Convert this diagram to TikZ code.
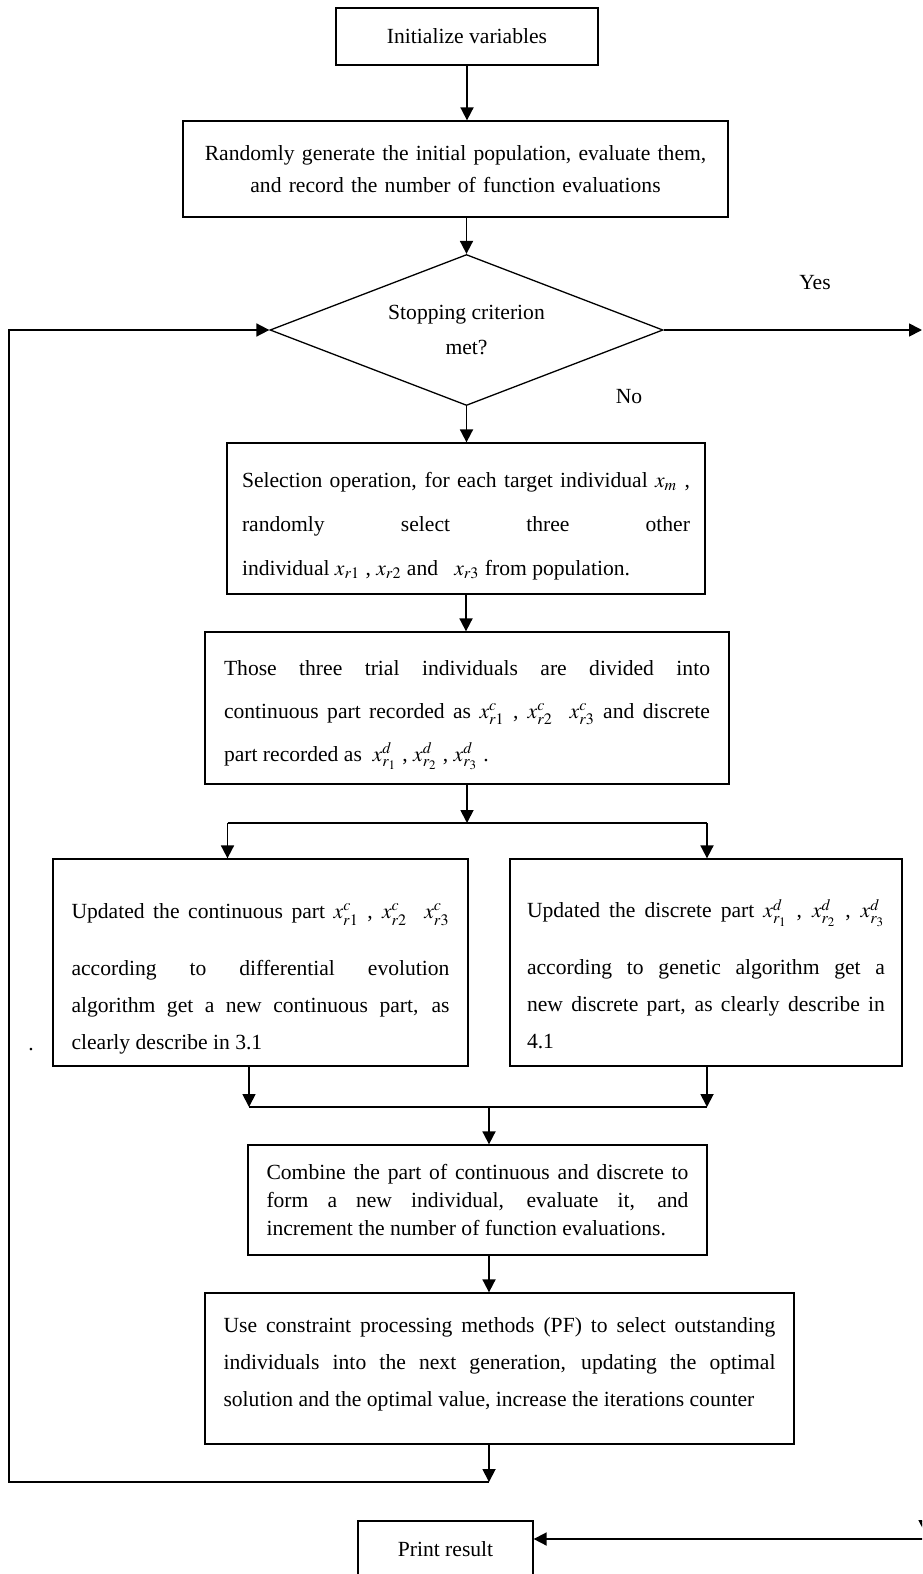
\documentclass[tikz,border=0pt]{standalone}
\usepackage{mathptmx}
\usepackage{fontspec}
\setmainfont{Liberation Serif}
\usetikzlibrary{arrows.meta,shapes.geometric}

\newcommand{\fsz}[1]{\fontsize{10.8pt}{#1}\selectfont}
\hyphenpenalty=10000

\begin{document}
\begin{tikzpicture}[
    x=0.5pt,
    y=-0.5pt,
    >={Triangle[length=6.5pt,width=6.5pt]},
    line width=0.9pt,
    font=\fsz{13pt},
    box/.style={draw, line width=0.65pt, inner sep=0pt, align=justify},
    cbox/.style={box, align=center},
    decision/.style={draw, diamond, aspect=2.6, line width=0.65pt, inner sep=0pt, align=center}
]
	\useasboundingbox (0,0) rectangle (922,1574);
	\clip (0,0) rectangle (922,1574);

	\node[cbox, minimum width=131pt, minimum height=28.5pt] (init) at (467,36.5) {Initialize variables};
	\node[cbox, text width=265pt, minimum width=272.5pt, minimum height=48pt, font=\fsz{16pt}] (rand) at (455.5,169)
		{Randomly generate the initial population, evaluate them,\\ and record the number of function evaluations};
	\node[decision, minimum width=196.5pt, minimum height=75.5pt, font=\fsz{17.5pt}] (crit) at (466.5,330)
		{Stopping criterion\\ met?};
	\node[box, text width=224pt, minimum width=239pt, minimum height=75.5pt, font=\fsz{22pt}] (sel) at (466,518.5)
		{\rule{0pt}{15.5pt}Selection operation, for each target individual $x_m$ ,\linebreak
		 randomly select three other\linebreak
		 individual $x_{r1}$ , $x_{r2}$ and\enspace\ $x_{r3}$ from population.};
	\node[box, text width=243pt, minimum width=262pt, minimum height=76pt, font=\fsz{21.5pt}] (split) at (467,708)
		{\rule{0pt}{14.4pt}Those three trial individuals are divided into\linebreak
		 continuous part recorded as $x^c_{r1}$ , $x^c_{r2}$\ \ $x^c_{r3}$ and discrete\linebreak
		 part recorded as\ \ $x^d_{r_1}$ , $x^d_{r_2}$ , $x^d_{r_3}$ .};
	\node[box, text width=189pt, minimum width=207.5pt, minimum height=103.5pt, font=\fsz{18.5pt}] (cont) at (260.5,962.5)
		{\rule{0pt}{24pt}Updated the continuous part $x^c_{r1}$ , $x^c_{r2}$\ \ $x^c_{r3}$\vspace{10pt}\linebreak
		 according to differential evolution\linebreak
		 algorithm get a new continuous part, as\linebreak
		 clearly describe in 3.1};
	\node[box, text width=179pt, minimum width=196pt, minimum height=103.5pt, font=\fsz{18.5pt}] (disc) at (706,962.5)
		{\rule{0pt}{21pt}Updated the discrete part $x^d_{r_1}$ , $x^d_{r_2}$ , $x^d_{r_3}$\vspace{10pt}\linebreak
		 according to genetic algorithm get a\linebreak
		 new discrete part, as clearly describe in\linebreak
		 4.1};
	\node[box, text width=211pt, minimum width=229.5pt, minimum height=55pt, font=\fsz{14.2pt}] (comb) at (477.5,1200)
		{Combine the part of continuous and discrete to\linebreak
		 form a new individual, evaluate it, and\linebreak
		 increment the number of function evaluations.};
	\node[box, text width=276pt, minimum width=294.5pt, minimum height=75.5pt, font=\fsz{18.5pt}] (pf) at (499.5,1368.5)
		{Use constraint processing methods (PF) to select outstanding\linebreak
		 individuals into the next generation, updating the optimal\linebreak
		 solution and the optimal value, increase the iterations counter\rule[-6.3pt]{0pt}{0pt}};
	\node[cbox, minimum width=87.5pt, minimum height=28pt] (print) at (445.5,1549) {Print result};

	\node (yes) at (815,283) {Yes};
	\node (no) at (629,397) {No};
	\node[anchor=base] (dot) at (31,1050) {.};

	\coordinate (yesEnd) at (922,330);
	\coordinate (fork) at (467,823);
	\coordinate (forkL) at (227.5,823);
	\coordinate (forkR) at (707,823);
	\coordinate (joinL) at (249,1107);
	\coordinate (joinR) at (707,1107);
	\coordinate (join) at (489,1107);
	\coordinate (back) at (489,1482);
	\coordinate (backL) at (9,1482);
	\coordinate (retT) at (925,1440);
	\coordinate (retV) at (925,1533);
	\coordinate (retR) at (925,1539);

	% main line
	\draw[->] (init) -- (init |- rand.north);
	\draw[->] (rand.south -| crit) -- (crit.north);
	\draw[->] (crit.south) -- (crit.south |- sel.north);
	\draw[->] (sel) -- (sel |- split.north);
	\draw[->] (crit.east) -- (yesEnd);

	% split into the two parts
	\draw[->] (split) -- (fork);
	\draw (forkL) -- (forkR);
	\draw[->] (forkL) -- (forkL |- cont.north);
	\draw[->] (forkR) -- (forkR |- disc.north);

	% join again
	\draw[->] (cont.south -| joinL) -- (joinL);
	\draw[->] (disc.south -| joinR) -- (joinR);
	\draw (joinL) -- (joinR);
	\draw[->] (join) -- (comb.north -| join);
	\draw[->] (comb.south -| join) -- (pf.north -| join);

	% back to the test
	\draw[->] (pf.south -| back) -- (back);
	\draw[->] (back) -- (backL) |- (crit.west);

	% result
	\draw[->] (retT) -- (retV);
	\draw[->] (retR) -- (print.east |- retR);
\end{tikzpicture}
\end{document}
